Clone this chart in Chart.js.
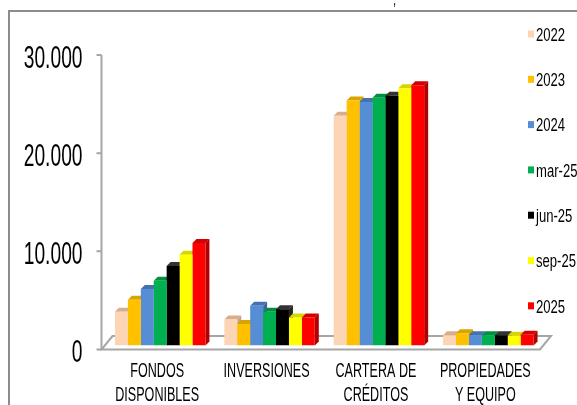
<!DOCTYPE html>
<html>
<head>
<meta charset="utf-8">
<script src="https://cdn.jsdelivr.net/npm/chart.js@4"></script>
<style>
  html, body { margin: 0; padding: 0; background: #fff; }
</style>
</head>
<body>
<canvas id="myChart" width="577" height="405"></canvas>
<script>
// data
var categories = [["FONDOS", "DISPONIBLES"], ["INVERSIONES"], ["CARTERA DE", "CRÉDITOS"], ["PROPIEDADES", "Y EQUIPO"]];
var seriesNames = ["2022", "2023", "2024", "mar-25", "jun-25", "sep-25", "2025"];
var v2022 = [3450, 2650, 23400, 1050];
var v2023 = [4650, 2200, 24950, 1250];
var v2024 = [5750, 4050, 24800, 1050];
var vMar25 = [6600, 3450, 25250, 1050];
var vJun25 = [8100, 3700, 25450, 1050];
var vSep25 = [9250, 2850, 26200, 1000];
var v2025 = [10450, 2850, 26500, 1100];
var yTicks = [0, 10000, 20000, 30000];

var seriesValues = [v2022, v2023, v2024, vMar25, vJun25, vSep25, v2025];
var colors = ["#fcd5b5", "#ffc000", "#558ed5", "#00b050", "#000000", "#ffff00", "#ff0000"];
var topColors = ["#d6ae8c", "#d9a300", "#4472b0", "#00903f", "#333333", "#d6d600", "#d40000"];
var sideColors = ["#c9a283", "#bf8f00", "#3a64a0", "#007a35", "#222222", "#bfbf00", "#b00000"];
var FONT = "'Liberation Sans', Arial, sans-serif";
var DEPTH = 4;

var datasets = seriesNames.map(function (name, i) {
  return {
    label: name,
    data: seriesValues[i],
    backgroundColor: colors[i],
    topColor: topColors[i],
    sideColor: sideColors[i],
    borderWidth: 0
  };
});

// narrow text: regular font squeezed sideways
function narrowText(ctx, text, x, y, size, sx, align) {
  ctx.save();
  ctx.font = size + "px " + FONT;
  ctx.textBaseline = "alphabetic";
  ctx.textAlign = align;
  ctx.translate(x, y);
  ctx.scale(sx, 1);
  ctx.fillText(text, 0, 0);
  ctx.restore();
}

var decor = {
  id: "decor",
  beforeDraw: function (chart) {
    var ctx = chart.ctx;
    ctx.save();
    ctx.strokeStyle = "#8c8c8c";
    ctx.lineWidth = 2;
    ctx.beginPath();
    ctx.moveTo(9, 405);
    ctx.lineTo(9, 11);
    ctx.lineTo(577, 11);
    ctx.stroke();
    // leftover of the cut-off title
    ctx.fillStyle = "#000";
    narrowText(ctx, ",", 393, 5, 16, 0.7, "left");
    ctx.restore();
  },
  beforeDatasetsDraw: function (chart) {
    var ctx = chart.ctx, a = chart.chartArea, d = DEPTH;
    ctx.save();
    // floor
    ctx.strokeStyle = "#a6a6a6";
    ctx.lineWidth = 2;
    ctx.fillStyle = "#ffffff";
    ctx.beginPath();
    ctx.moveTo(a.left - 4, a.bottom + 4);
    ctx.lineTo(a.right - 3, a.bottom + 4);
    ctx.lineTo(a.right + 8, a.bottom - 9.5);
    ctx.lineTo(a.left + 7, a.bottom - 9.5);
    ctx.closePath();
    ctx.fill();
    ctx.stroke();
    // y axis with small ticks, on the front plane
    var ys = chart.scales.y;
    ctx.beginPath();
    ctx.moveTo(a.left - 4, ys.getPixelForValue(30000) + 4);
    ctx.lineTo(a.left - 4, a.bottom + 4);
    yTicks.forEach(function (t) {
      var py = ys.getPixelForValue(t) + 4;
      ctx.moveTo(a.left - 9, py);
      ctx.lineTo(a.left - 4, py);
    });
    ctx.stroke();
    // top and side faces
    chart.data.datasets.forEach(function (ds, i) {
      var meta = chart.getDatasetMeta(i);
      meta.data.forEach(function (bar) {
        var x0 = bar.x - bar.width / 2, x1 = bar.x + bar.width / 2, y = bar.y, b = bar.base;
        ctx.fillStyle = ds.topColor;
        ctx.beginPath();
        ctx.moveTo(x0, y);
        ctx.lineTo(x0 + d, y - d);
        ctx.lineTo(x1 + d, y - d);
        ctx.lineTo(x1, y);
        ctx.closePath();
        ctx.fill();
        ctx.fillStyle = ds.sideColor;
        ctx.beginPath();
        ctx.moveTo(x1, y);
        ctx.lineTo(x1 + d, y - d);
        ctx.lineTo(x1 + d, b - d);
        ctx.lineTo(x1, b);
        ctx.closePath();
        ctx.fill();
      });
    });
    ctx.restore();
  },
  afterDraw: function (chart) {
    var ctx = chart.ctx, a = chart.chartArea;
    ctx.save();
    ctx.fillStyle = "#000";
    // y tick labels
    var ys = chart.scales.y;
    yTicks.forEach(function (t) {
      narrowText(ctx, t.toLocaleString("de-DE"), a.left - 23, ys.getPixelForValue(t) + 4 + 12.7, 30.5, 0.63, "right");
    });
    // category labels
    var xs = chart.scales.x;
    categories.forEach(function (lines, i) {
      var cx = xs.getPixelForTick(i) - 3;
      lines.forEach(function (line, k) {
        narrowText(ctx, line, cx, 377.3 + k * 23.4, 19.5, 0.645, "center");
      });
    });
    // legend on the right
    seriesNames.forEach(function (name, i) {
      var cy = 34 + i * 45.3;
      ctx.fillStyle = colors[i];
      ctx.fillRect(528, cy - 3.5, 6, 7);
      ctx.fillStyle = "#000";
      narrowText(ctx, name, 536, cy + 6.7, 18.7, 0.7, "left");
    });
    ctx.restore();
  }
};

var ctxB = document.getElementById("myChart").getContext("2d");
var myBarChart = new Chart(ctxB, {
  type: "bar",
  plugins: [decor],
  data: {
    labels: categories,
    datasets: datasets
  },
  options: {
    responsive: false,
    animation: false,
    events: [],
    layout: { padding: { left: 8, top: 51, right: 34, bottom: 0 } },
    datasets: {
      bar: { categoryPercentage: 0.827, barPercentage: 1 }
    },
    plugins: {
      legend: { display: false },
      tooltip: { enabled: false }
    },
    scales: {
      x: {
        grid: { display: false },
        border: { display: false },
        ticks: { display: false },
        afterFit: function (scale) { scale.height = 59.5; }
      },
      y: {
        min: 0,
        max: 30000,
        grid: { display: false },
        border: { display: false },
        ticks: { display: false },
        afterFit: function (scale) { scale.width = 97.5; }
      }
    }
  }
});
</script>
</body>
</html>
